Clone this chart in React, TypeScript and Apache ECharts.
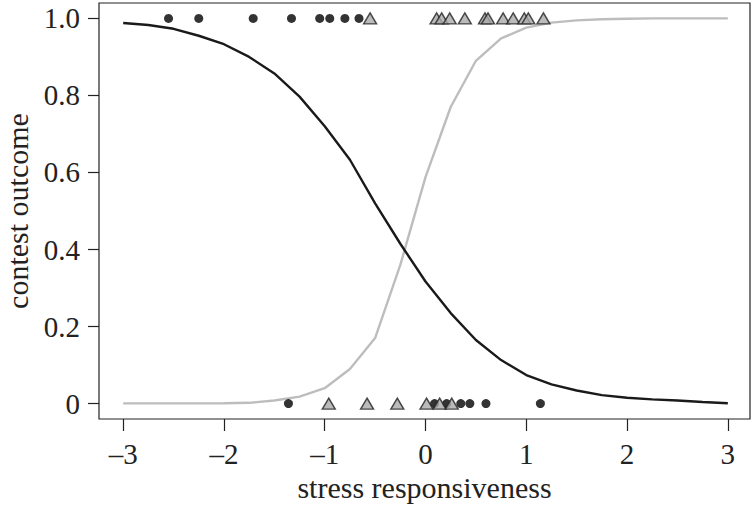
import React, { useEffect, useRef } from "react";
import * as echarts from "echarts";

const curveX = [-3, -2.75, -2.5, -2.25, -2, -1.75, -1.5, -1.25, -1, -0.75, -0.5, -0.25, 0, 0.25, 0.5, 0.75, 1, 1.25, 1.5, 1.75, 2, 2.25, 2.5, 2.75, 3];
const blackCurve = [0.988, 0.983, 0.973, 0.955, 0.933, 0.9, 0.857, 0.797, 0.72, 0.633, 0.52, 0.415, 0.317, 0.235, 0.165, 0.113, 0.074, 0.05, 0.034, 0.022, 0.015, 0.011, 0.008, 0.004, 0.001];
const grayCurve = [0.0005, 0.0005, 0.0005, 0.0005, 0.001, 0.002, 0.008, 0.018, 0.04, 0.09, 0.17, 0.36, 0.588, 0.77, 0.89, 0.948, 0.976, 0.989, 0.995, 0.998, 0.999, 1, 1, 1, 1];

const circlesTop = [-2.55, -2.25, -1.71, -1.33, -1.05, -0.95, -0.8, -0.66];
const circlesBottom = [-1.36, 0.09, 0.21, 0.35, 0.44, 0.6, 1.14];
const trianglesTop = [-0.55, 0.11, 0.16, 0.24, 0.39, 0.59, 0.62, 0.77, 0.87, 0.98, 1.02, 1.17];
const trianglesBottom = [-0.96, -0.58, -0.28, 0.01, 0.14, 0.26];

const xTicks = [-3, -2, -1, 0, 1, 2, 3];
const yTicks = [0, 0.2, 0.4, 0.6, 0.8, 1.0];

const FONT = "'Liberation Serif', 'DejaVu Serif', serif";

export default function App() {
  const ref = useRef<HTMLDivElement>(null);
  useEffect(() => {
    const chart = echarts.init(ref.current!, null, { renderer: "svg" });
    const circleData = [
      ...circlesTop.map((x) => [x, 1]),
      ...circlesBottom.map((x) => [x, 0]),
    ];
    const triData = [
      ...trianglesTop.map((x) => [x, 1]),
      ...trianglesBottom.map((x) => [x, 0]),
    ];
    chart.setOption({
      animation: false,
      backgroundColor: "#ffffff",
      grid: {
        left: 99,
        right: 2,
        top: 3,
        bottom: 86,
        show: true,
        borderColor: "#222222",
        borderWidth: 1.2,
        containLabel: false,
        outerBoundsMode: "none",
      },
      xAxis: {
        type: "value",
        min: -3.24,
        max: 3.22,
        name: "stress responsiveness",
        nameLocation: "middle",
        nameGap: 50,
        nameTextStyle: { fontFamily: FONT, fontSize: 30, color: "#222222" },
        axisLine: { show: false, onZero: false },
        splitLine: { show: false },
        axisTick: {
          show: true,
          length: 12,
          inside: false,
          customValues: xTicks,
          lineStyle: { color: "#222222", width: 1.2 },
        },
        axisLabel: {
          customValues: xTicks,
          margin: 20,
          fontFamily: FONT,
          fontSize: 29,
          color: "#222222",
          formatter: (v: number) => (v < 0 ? "\u2013" + Math.abs(v) : String(v)),
        },
      },
      yAxis: {
        type: "value",
        min: -0.04,
        max: 1.04,
        name: "contest outcome",
        nameLocation: "middle",
        nameGap: 62,
        nameRotate: 90,
        nameTextStyle: { fontFamily: FONT, fontSize: 30, color: "#222222" },
        axisLine: { show: false, onZero: false },
        splitLine: { show: false },
        axisTick: {
          show: true,
          length: 11,
          inside: false,
          customValues: yTicks,
          lineStyle: { color: "#222222", width: 1.2 },
        },
        axisLabel: {
          customValues: yTicks,
          margin: 19,
          fontFamily: FONT,
          fontSize: 29,
          color: "#222222",
          formatter: (v: number) => (v === 0 ? "0" : v.toFixed(1)),
        },
      },
      series: [
        {
          type: "line",
          data: curveX.map((x, i) => [x, grayCurve[i]]),
          showSymbol: false,
          lineStyle: { color: "#bdbdbd", width: 2.4 },
          z: 1,
        },
        {
          type: "line",
          data: curveX.map((x, i) => [x, blackCurve[i]]),
          showSymbol: false,
          lineStyle: { color: "#1a1a1a", width: 2.4 },
          z: 2,
        },
        {
          type: "scatter",
          data: circleData,
          symbol: "circle",
          symbolSize: 9,
          itemStyle: { color: "#000000" },
          z: 3,
        },
        {
          type: "scatter",
          data: triData,
          symbol: "triangle",
          symbolSize: [13, 11],
          itemStyle: { color: "#aaaaaa", borderColor: "#222222", borderWidth: 1.4 },
          z: 4,
        },
      ],
    });
    return () => chart.dispose();
  }, []);
  return <div ref={ref} style={{ width: 752, height: 505, position: "absolute", left: 0, top: 0 }} />;
}
